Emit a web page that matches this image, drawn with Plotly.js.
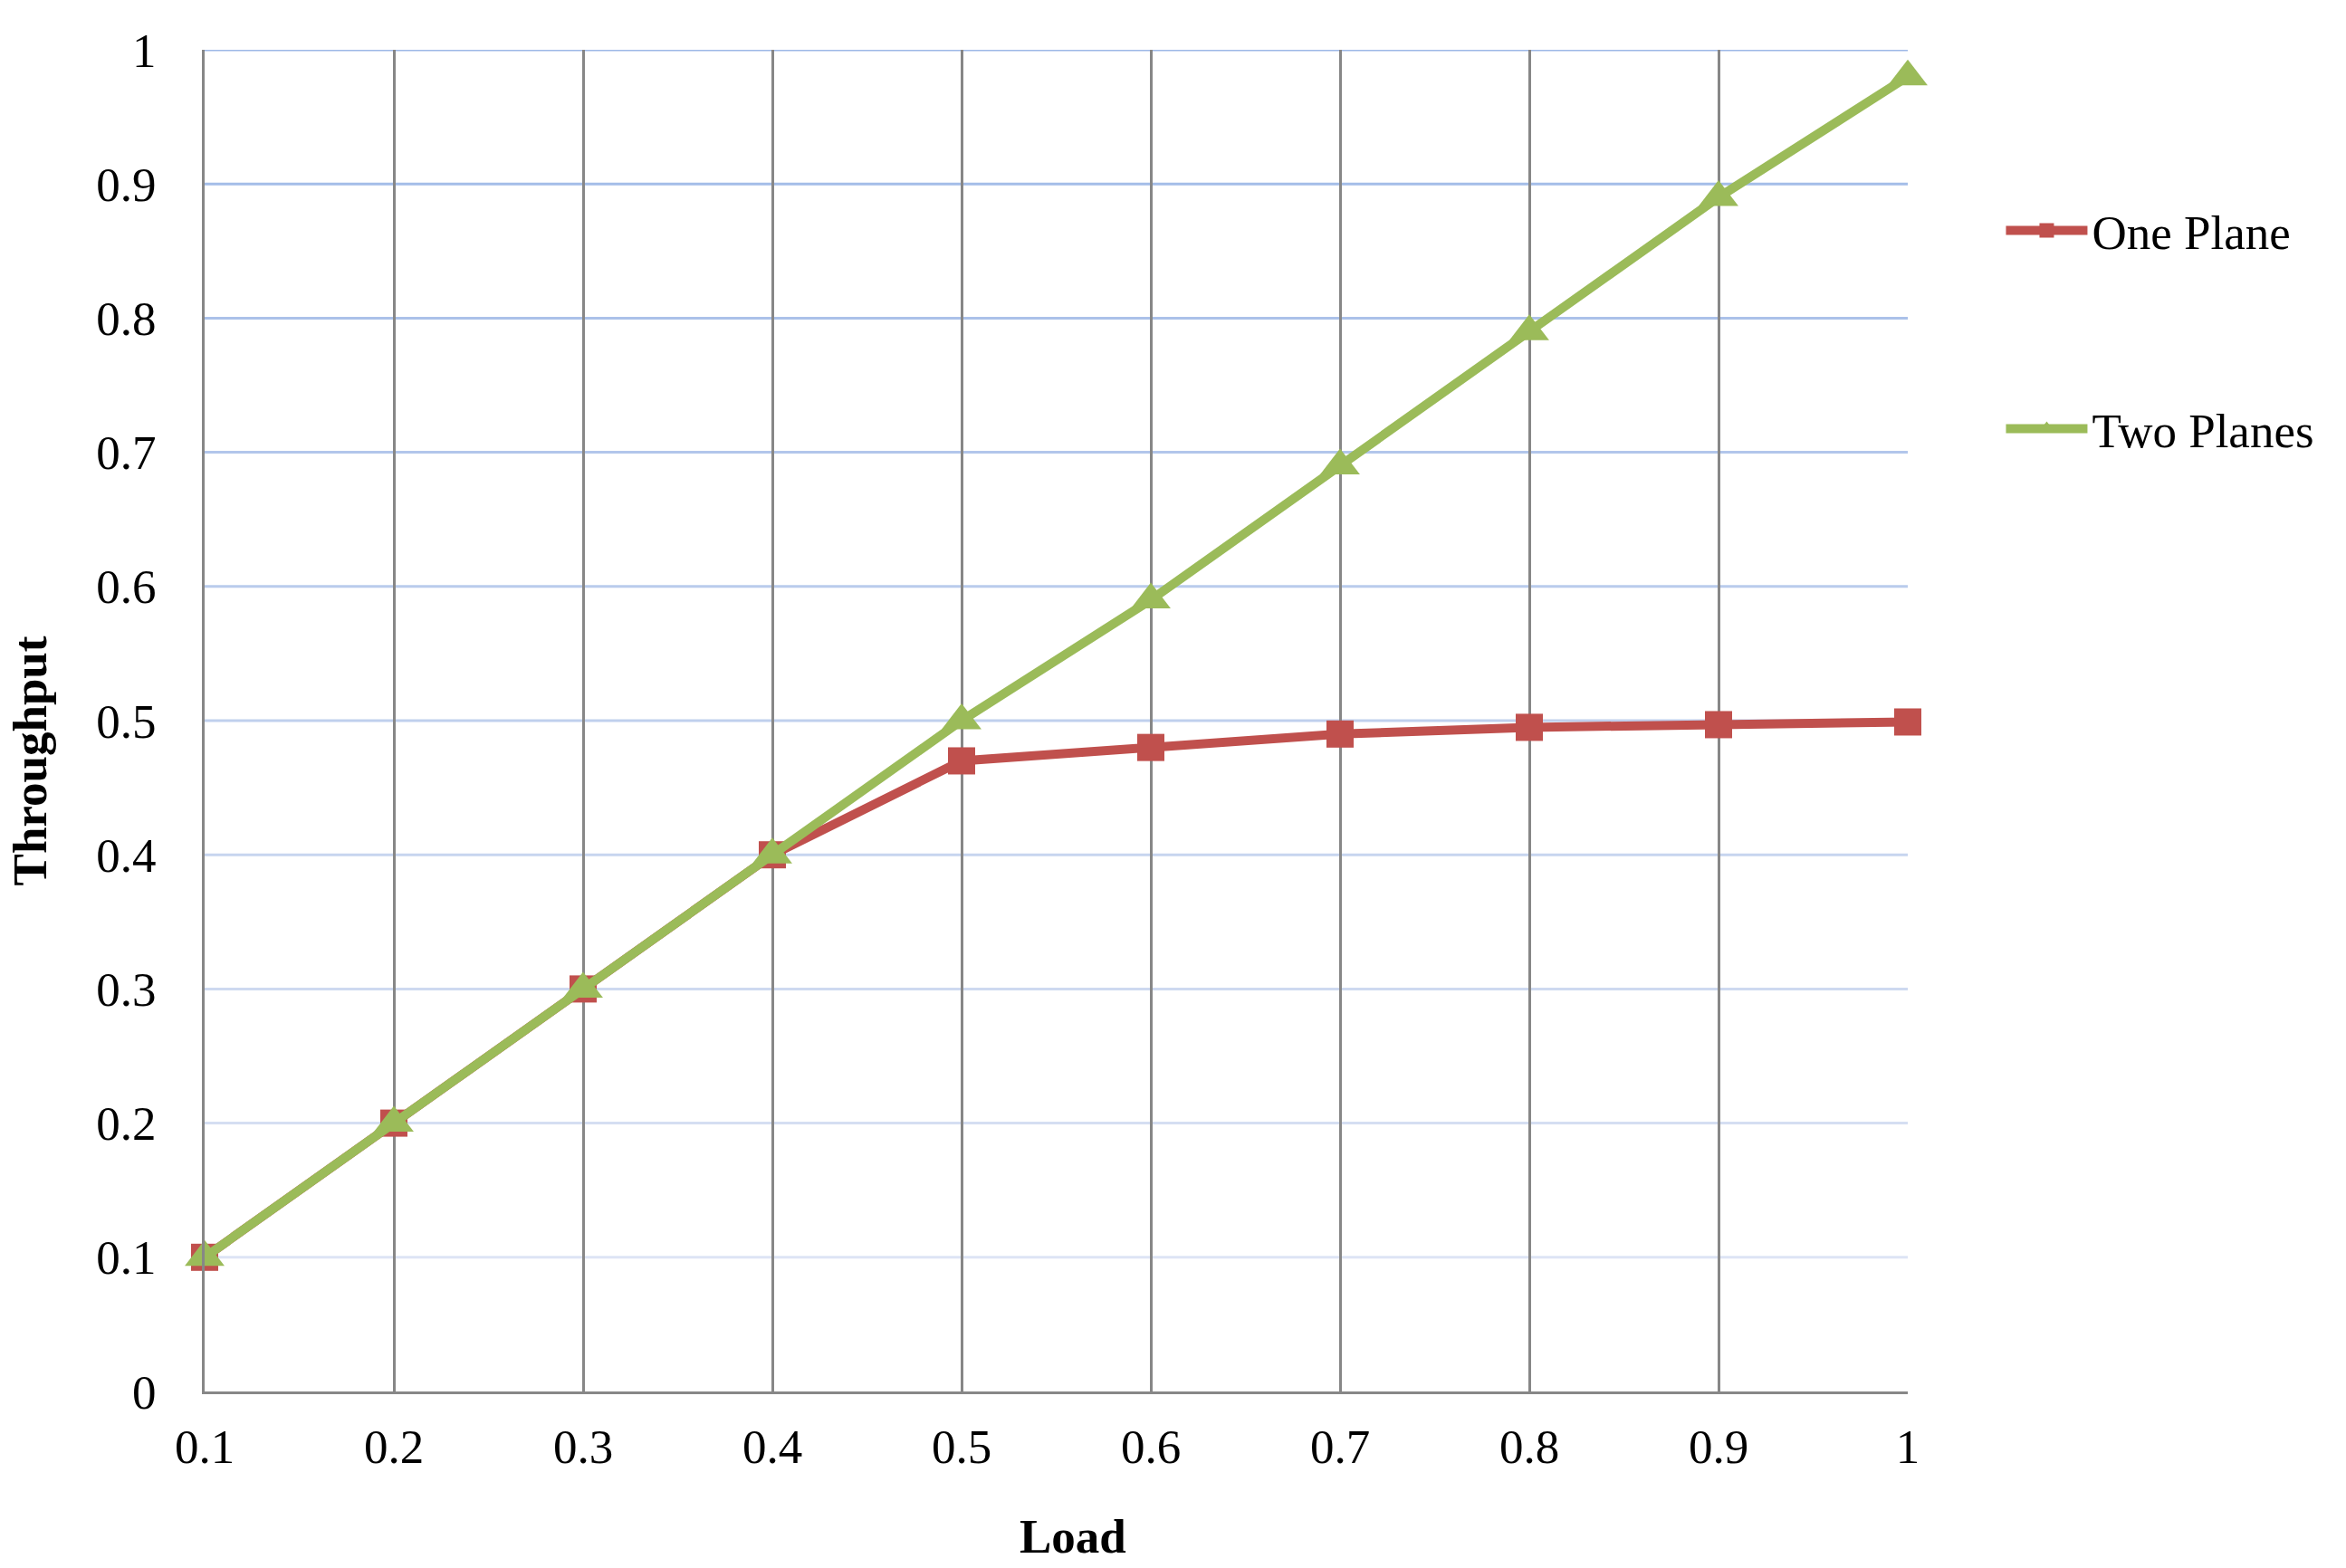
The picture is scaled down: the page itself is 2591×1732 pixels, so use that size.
<!DOCTYPE html>
<html>
<head>
<meta charset="utf-8">
<script src="https://cdn.plot.ly/plotly-3.0.1.min.js"></script>
<style>
  body { margin: 0; background: #fff; }
  #plotArea { width: 2591px; height: 1732px; }
</style>
</head>
<body>
<div id="plotArea"></div>
<script>
// Throughput vs load, one plane vs two planes
var load = [0.1, 0.2, 0.3, 0.4, 0.5, 0.6, 0.7, 0.8, 0.9, 1];
var onePlane = [0.1, 0.2, 0.3, 0.4, 0.47, 0.48, 0.49, 0.495, 0.497, 0.499];
var twoPlanes = [0.1, 0.2, 0.3, 0.4, 0.5, 0.59, 0.69, 0.79, 0.89, 0.98];

// horizontal gridlines fade from blue (top) to pale (bottom)
var gridValues = [1, 0.9, 0.8, 0.7, 0.6, 0.5, 0.4, 0.3, 0.2, 0.1];
var gridColors = ["#9db8e6", "#a4bde8", "#abc1e9", "#b2c6eb", "#b9cbec",
                  "#c0d0ed", "#c7d5ef", "#ced9f0", "#d5def2", "#dde4f5"];

var font = "Liberation Serif, Times New Roman, serif";

var trace1 = {
    x: load,
    y: onePlane,
    name: "One Plane",
    legendgroup: "a",
    mode: "lines+markers",
    type: "scatter",
    cliponaxis: false,
    line: {color: "#c0504d", width: 10},
    marker: {symbol: "square", size: 30, color: "#c0504d"}
};
var trace2 = {
    x: load,
    y: twoPlanes,
    name: "Two Planes",
    legendgroup: "b",
    mode: "lines+markers",
    type: "scatter",
    cliponaxis: false,
    line: {color: "#9bbb59", width: 10},
    marker: {symbol: "triangle-up", size: 38, color: "#9bbb59"}
};

var shapes = gridValues.map(function(v, i) {
    return {
        type: "line", layer: "below",
        xref: "paper", x0: 0, x1: 1,
        yref: "y", y0: v, y1: v,
        line: {color: gridColors[i], width: 3}
    };
});

var layout = {
    width: 2591,
    height: 1732,
    margin: {l: 226, r: 484, t: 55, b: 195},
    paper_bgcolor: "#ffffff",
    plot_bgcolor: "#ffffff",
    font: {family: font, size: 53, color: "#000000"},
    showlegend: true,
    legend: {
        x: 1.055, y: 0.893, xanchor: "left", yanchor: "top",
        itemwidth: 90,
        tracegroupgap: 147,
        traceorder: "grouped",
        font: {family: font, size: 53, color: "#000000"}
    },
    xaxis: {
        range: [0.1, 1],
        tick0: 0.1,
        dtick: 0.1,
        showgrid: true,
        gridcolor: "#878787",
        gridwidth: 3,
        zeroline: false,
        showline: true,
        linecolor: "#878787",
        linewidth: 3,
        ticks: "",
        ticklabelstandoff: 12,
        tickfont: {family: font, size: 53}
    },
    yaxis: {
        range: [0, 1],
        tick0: 0,
        dtick: 0.1,
        showgrid: false,
        zeroline: false,
        showline: true,
        linecolor: "#878787",
        linewidth: 3,
        ticks: "",
        ticklabelstandoff: 40,
        tickfont: {family: font, size: 53}
    },
    shapes: shapes,
    annotations: [
        {
            text: "<b>Load</b>", xref: "paper", yref: "paper",
            x: 0.51, y: -0.108, showarrow: false,
            xanchor: "center", yanchor: "middle",
            font: {family: font, size: 53}
        },
        {
            text: "<b>Throughput</b>", xref: "paper", yref: "paper",
            x: -0.1026, y: 0.47, showarrow: false, textangle: -90,
            xanchor: "center", yanchor: "middle",
            font: {family: font, size: 53}
        }
    ]
};

Plotly.newPlot("plotArea", [trace1, trace2], layout, {displayModeBar: false, staticPlot: true});
</script>
</body>
</html>
